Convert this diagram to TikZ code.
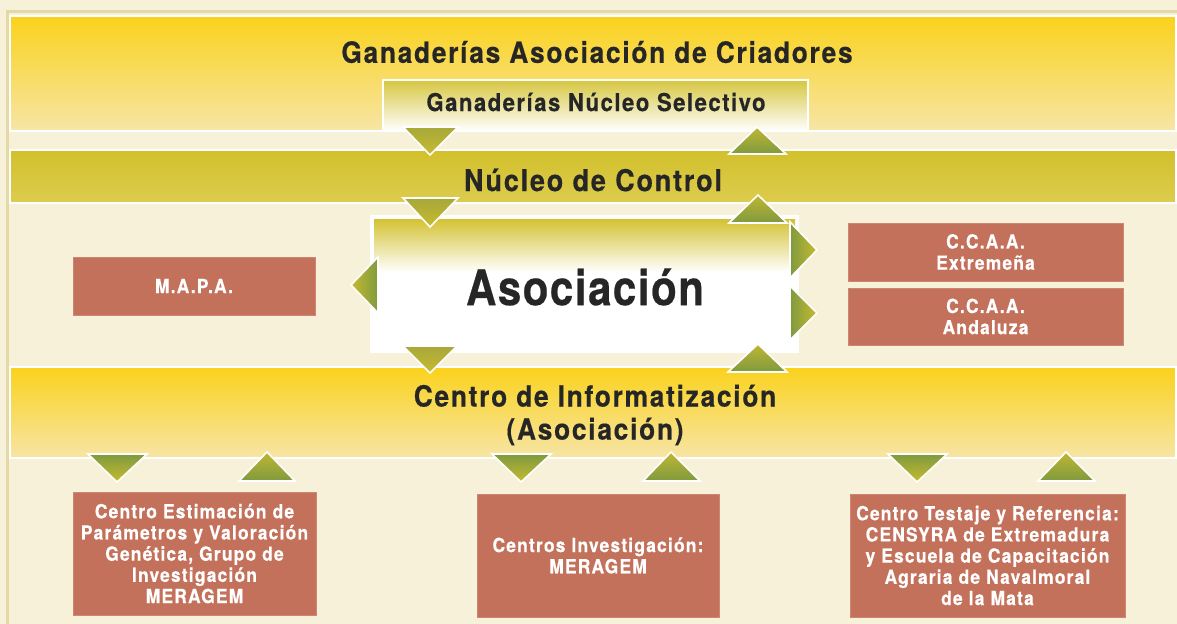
\documentclass[tikz,border=0pt]{standalone}
\usepackage{fontspec}
\setmainfont{TeX Gyre Heros}[FakeStretch=0.9, LetterSpace=6, BoldFeatures={FakeBold=0.4}]
\newfontfamily\grande{TeX Gyre Heros}[FakeStretch=0.86, LetterSpace=3, BoldFeatures={FakeBold=0.4}]
\usetikzlibrary{positioning,calc}

\definecolor{fondo}{HTML}{F8F1D9}
\definecolor{borde}{HTML}{E4D8A6}
\definecolor{amartop}{HTML}{FAD21C}
\definecolor{amarbot}{HTML}{F7E5A6}
\definecolor{olivtop}{HTML}{D2C02C}
\definecolor{olivbot}{HTML}{DDCC4E}
\definecolor{verde}{HTML}{7F9A3F}
\definecolor{oliva}{HTML}{A8A83A}
\definecolor{amaver}{HTML}{C6BA30}
\definecolor{teja}{HTML}{C4715C}
\definecolor{tinta}{HTML}{262626}

\begin{document}
\begin{tikzpicture}[x=0.5pt, y=-0.5pt, font=\bfseries]
	\tikzstyle{band} = [draw=white, line width=1pt, inner sep=0pt, minimum width=583pt]
	\tikzstyle{caja} = [fill=teja, draw=teja!85!white, inner sep=0pt, text=white, align=center,
		font=\bfseries\fontsize{9.7}{10.6}\selectfont]
	\tikzstyle{rotulo} = [text=tinta, align=center, inner sep=0pt]
	\tikzstyle{tridown} = [draw=white, line width=0.8pt, top color=oliva, bottom color=amaver]
	\tikzstyle{triup} = [draw=white, line width=0.8pt, top color=amaver!80!oliva, bottom color=verde]
	\tikzstyle{trileft} = [draw=white, line width=0.8pt, left color=amaver, right color=verde]
	\tikzstyle{triright} = [draw=white, line width=0.8pt, left color=verde, right color=amaver]

	% fondo y borde
	\fill[fondo] (0,0) rectangle (1177,624);
	\useasboundingbox (0,0) rectangle (1177,624);
	\draw[borde, line width=1.5pt] (7,624) -- (7,12) -- (1177,12);

	% bandas
	\node[band, minimum height=57.5pt, top color=amartop, bottom color=amarbot] (criadores) at (593,73.5) {};
	\node[band, minimum height=26.5pt, top color=olivtop, bottom color=olivbot] (control) at (593,176.5) {};
	\node[band, minimum height=45.5pt, top color=amartop, bottom color=amarbot] (informa) at (593,412.5) {};

	\node[draw=white, line width=1pt, minimum width=212.5pt, minimum height=25.5pt,
		top color=olivtop!90!white, bottom color=white] (selectivo) at (595.5,105.5) {};
	\node[draw=white, fill=white, line width=1pt, minimum width=213.5pt, minimum height=68pt] (asoc) at (584,284) {};
	\shade[top color=olivtop!95!white, bottom color=white] (374,220) rectangle (795,272);

	% rotulos
	\node[rotulo, font=\bfseries\fontsize{14.6}{17}\selectfont] (tcria) at (597,52) {Ganaderías Asociación de Criadores};
	\node[rotulo, font=\bfseries\fontsize{12.3}{14}\selectfont] (tsel) at (596,102) {Ganaderías Núcleo Selectivo};
	\node[rotulo, font=\bfseries\fontsize{15}{17}\selectfont] (tcon) at (593,180) {Núcleo de Control};
	\node[rotulo, font=\grande\bfseries\fontsize{24.5}{28}\selectfont] (tasoc) at (585,287) {Asociación};
	\node[rotulo, font=\bfseries\fontsize{14.6}{16.5}\selectfont] (tinf) at (595,415) {Centro de Informatización\\(Asociación)};

	% cajas
	\node[caja, minimum width=121pt, minimum height=29pt] (mapa) at (194,286) {M.A.P.A.};
	\node[caja, minimum width=137.5pt, minimum height=29pt] (extre) at (985.5,252) {C.C.A.A.\\Extremeña};
	\node[caja, minimum width=137.5pt, minimum height=28.5pt] (anda) at (985.5,316.5) {C.C.A.A.\\Andaluza};
	\node[caja, minimum width=121.5pt, minimum height=61.5pt] (estima) at (194.5,553.5)
		{Centro Estimación de\\Parámetros y Valoración\\Genética, Grupo de\\Investigación\\MERAGEM};
	\node[caja, minimum width=121pt, minimum height=61.5pt] (invest) at (598,555.5)
		{Centros Investigación:\\MERAGEM};
	\node[caja, minimum width=137.5pt, minimum height=61.5pt] (testaje) at (987.5,555.5)
		{Centro Testaje y Referencia:\\CENSYRA de Extremadura\\y Escuela de Capacitación\\Agraria de Navalmoral\\de la Mata};

	% flechas triangulares
	\path[tridown] (403,127) -- (458,127) -- (430,155) -- cycle;
	\path[triup] (729,154) -- (786,154) -- (757,127) -- cycle;
	\path[tridown] (403,198) -- (458,198) -- (430,227) -- cycle;
	\path[triup] (729,223) -- (787,223) -- (758,195) -- cycle;
	\path[trileft] (378,257) -- (378,313) -- (351,285) -- cycle;
	\path[triright] (790,222) -- (790,278) -- (817,250) -- cycle;
	\path[triright] (790,286) -- (790,340) -- (817,313) -- cycle;
	\path[tridown] (403,346) -- (457,346) -- (430,373) -- cycle;
	\path[triup] (728,372) -- (787,372) -- (758,344) -- cycle;

	\path[tridown, top color=verde, bottom color=amaver] (88,454) -- (147,454) -- (117,482) -- cycle;
	\path[triup] (239,481) -- (295,481) -- (267,452) -- cycle;
	\path[tridown, top color=verde, bottom color=amaver] (492,454) -- (551,454) -- (521,482) -- cycle;
	\path[triup] (643,481) -- (700,481) -- (671,452) -- cycle;
	\path[tridown, top color=verde, bottom color=amaver] (888,454) -- (947,454) -- (917,482) -- cycle;
	\path[triup] (1038,481) -- (1095,481) -- (1066,452) -- cycle;
\end{tikzpicture}
\end{document}
